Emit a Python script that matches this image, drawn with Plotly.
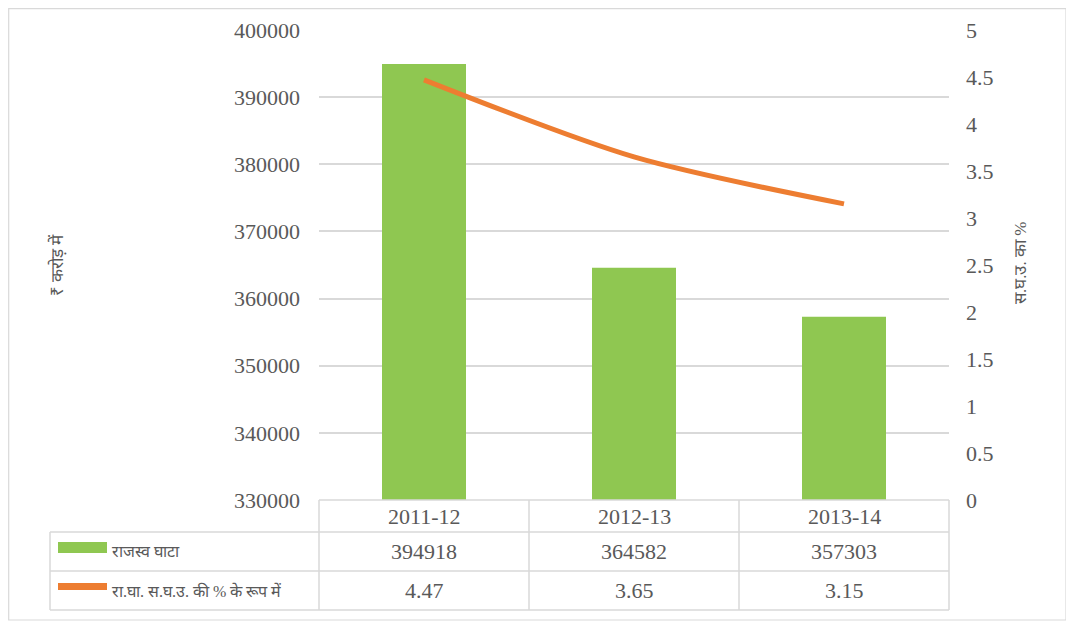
import plotly.graph_objects as go

years = ["2011-12", "2012-13", "2013-14"]
revenue_deficit = [394918, 364582, 357303]
rd_pct_gsdp = [4.47, 3.65, 3.15]
series_names = ["राजस्व घाटा", "रा.घा. स.घ.उ. की % के रूप में"]
left_title = "₹ करोड़ में"
right_title = "स.घ.उ. का %"
left_ticks = [330000, 340000, 350000, 360000, 370000, 380000, 390000, 400000]
right_ticks = [0, 0.5, 1, 1.5, 2, 2.5, 3, 3.5, 4, 4.5, 5]

OFF = 8  # page body margin
W, H = 1074 - OFF, 623 - OFF
T = 30 - OFF
B = 623 - 500
PLOT_H = H - T - B
X0, X1 = 319, 949
GREEN = "#8FC751"
ORANGE = "#ED7D31"
TXT = "#595959"
GRID = "#D9D9D9"
FONT = "Liberation Serif"


def px(x):
    # x in page pixels -> paper fraction
    return (x - OFF) / W


def py(y):
    # y in page pixels -> paper fraction
    return (500 - y) / PLOT_H


xs = list(range(len(years)))

fig = go.Figure()
fig.add_trace(go.Bar(x=xs, y=revenue_deficit, name=series_names[0],
                     marker=dict(color=GREEN, line=dict(width=0)), width=0.4))
fig.add_trace(go.Scatter(x=xs, y=rd_pct_gsdp, name=series_names[1], yaxis="y2",
                         mode="lines", line=dict(color=ORANGE, width=5, shape="spline",
                                                 smoothing=0.8)))

shapes = []
annotations = []


def hline(x0, x1, y):
    shapes.append(dict(type="line", xref="paper", yref="paper", x0=px(x0), x1=px(x1),
                       y0=py(y), y1=py(y), line=dict(color=GRID, width=1.5)))


def vline(x, y0, y1):
    shapes.append(dict(type="line", xref="paper", yref="paper", x0=px(x), x1=px(x),
                       y0=py(y0), y1=py(y1), line=dict(color=GRID, width=1.5)))


# outer chart border
shapes.append(dict(type="rect", xref="paper", yref="paper", x0=px(8.7), x1=px(1066),
                   y0=py(8.7), y1=py(620), line=dict(color=GRID, width=1.2),
                   fillcolor="rgba(0,0,0,0)", layer="below"))

# data table grid
rows_y = [500, 532, 571, 610]
col_x = [X0, 529, 739, X1]
hline(X0, X1, rows_y[0])
for yy in rows_y[1:]:
    hline(50, X1, yy)
for xx in col_x:
    vline(xx, rows_y[0], rows_y[-1])
vline(50, rows_y[1], rows_y[-1])

# legend keys
shapes.append(dict(type="rect", xref="paper", yref="paper", x0=px(58), x1=px(107),
                   y0=py(542), y1=py(553), fillcolor=GREEN, line=dict(width=0)))
shapes.append(dict(type="rect", xref="paper", yref="paper", x0=px(58), x1=px(107),
                   y0=py(583), y1=py(590), fillcolor=ORANGE, line=dict(width=0)))


def label(x, y, text, size=22, xanchor="center", angle=0):
    annotations.append(dict(x=px(x), y=py(y), xref="paper", yref="paper", text=text,
                            showarrow=False, xanchor=xanchor, yanchor="middle",
                            textangle=angle, font=dict(family=FONT, size=size, color=TXT)))


centers = [(col_x[i] + col_x[i + 1]) / 2 for i in range(3)]
row_c = [(rows_y[i] + rows_y[i + 1]) / 2 for i in range(3)]
for i in range(3):
    label(centers[i], row_c[0], years[i])
    label(centers[i], row_c[1], str(revenue_deficit[i]))
    label(centers[i], row_c[2], f"{rd_pct_gsdp[i]:.2f}")
label(110, row_c[1], series_names[0], size=16, xanchor="left")
label(110, row_c[2], series_names[1], size=16, xanchor="left")

# axis titles
label(57, 265, left_title, size=17, angle=-90)
label(1020, 263, right_title, size=17, angle=-90)

fig.update_layout(
    width=W, height=H,
    margin=dict(l=0, r=0, t=T, b=B),
    paper_bgcolor="white", plot_bgcolor="white",
    showlegend=False,
    font=dict(family=FONT, size=22, color=TXT),
    xaxis=dict(domain=[px(X0), px(X1)], range=[-0.5, 2.5], showticklabels=False,
               showgrid=False, zeroline=False, showline=False, ticks=""),
    yaxis=dict(range=[330000, 400000], tickvals=left_ticks, tickformat="d",
               showgrid=True, gridcolor=GRID, gridwidth=1.5, zeroline=False,
               showline=False, ticks="", ticklabelstandoff=18,
               tickfont=dict(family=FONT, size=22, color=TXT)),
    yaxis2=dict(range=[0, 5], tickvals=right_ticks, overlaying="y", side="right",
                showgrid=False, zeroline=False, showline=False, ticks="",
                ticklabelstandoff=16,
                tickfont=dict(family=FONT, size=22, color=TXT)),
    shapes=shapes,
    annotations=annotations,
)

fig.write_html("out.html")
